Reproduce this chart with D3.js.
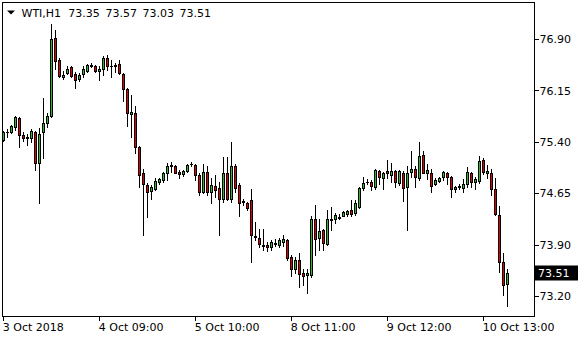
<!DOCTYPE html>
<html>
<head>
<meta charset="utf-8">
<script src="https://cdn.jsdelivr.net/npm/d3@7"></script>
<style>
  body { margin: 0; background: #fff; }
  svg text { font-family: "DejaVu Sans", sans-serif; font-size: 11px; fill: #000; }
</style>
</head>
<body>
<div class="chart"></div>
<script>
// WTI H1 candles
var opens = [75.46,75.57,75.57,75.65,75.78,75.53,75.50,75.49,75.58,75.12,75.57,75.70,75.81,76.94,76.62,76.38,76.44,76.52,76.42,76.35,
  76.42,76.47,76.54,76.53,76.46,76.50,76.65,76.54,76.55,76.56,76.42,76.20,75.83,75.85,75.36,74.97,74.80,74.71,74.74,74.85,
  74.87,74.98,75.08,75.08,74.99,74.96,75.01,75.10,75.09,74.95,74.70,74.99,74.70,74.78,74.75,74.59,74.98,74.60,75.08,74.80,
  74.56,74.54,74.58,74.05,74.02,73.93,73.92,73.90,73.94,73.93,73.97,74.00,73.75,73.58,73.71,73.51,73.48,73.48,74.31,74.02,
  74.14,73.94,74.29,74.31,74.32,74.35,74.38,74.43,74.39,74.48,74.75,74.84,74.85,74.77,75.00,74.90,75.00,74.95,75.00,74.83,
  74.98,74.77,74.99,75.03,74.90,75.24,74.97,74.98,74.81,74.86,74.91,74.98,74.91,74.74,74.77,74.75,74.81,74.98,74.84,74.86,
  75.17,74.97,74.98,74.74,74.36,73.67,73.35];
var highs = [75.59,75.62,75.68,75.81,75.79,75.57,75.54,75.62,75.59,75.63,76.07,75.85,77.15,77.06,76.66,76.46,76.53,76.54,76.45,76.43,
  76.53,76.57,76.58,76.55,76.53,76.68,76.70,76.62,76.58,76.62,76.43,76.22,76.11,75.95,75.37,75.03,74.83,74.80,74.90,74.90,
  74.99,75.12,75.13,75.09,75.02,75.02,75.10,75.13,75.11,74.97,75.10,75.07,74.90,74.95,74.85,75.21,75.21,75.43,75.10,74.83,
  74.59,74.55,74.74,74.26,74.15,74.15,73.96,73.99,74.01,74.02,74.07,74.01,73.78,73.75,73.80,73.57,73.58,74.34,74.51,74.31,
  74.16,74.44,74.48,74.39,74.38,74.42,74.44,74.58,74.58,74.77,74.92,74.88,74.87,75.03,75.02,74.99,75.17,75.12,75.02,75.02,
  75.01,75.08,75.30,75.08,75.43,75.29,75.11,75.03,74.90,74.92,75.01,74.99,74.93,74.78,74.82,74.88,75.06,74.99,74.92,75.22,
  75.20,75.09,75.03,74.90,74.49,73.80,73.57];
var lows = [75.44,75.50,75.56,75.60,75.36,75.44,75.38,75.43,75.02,74.54,75.19,75.65,75.79,76.50,76.38,76.34,76.42,76.38,76.22,76.32,
  76.38,76.45,76.52,76.45,76.33,76.41,76.48,76.38,76.45,76.42,76.02,75.66,75.50,75.27,74.77,74.07,74.33,74.60,74.72,74.81,
  74.85,74.87,74.99,74.97,74.90,74.93,74.99,75.07,74.87,74.65,74.68,74.65,74.53,74.63,74.07,74.55,74.58,74.55,74.70,74.34,
  74.51,74.44,73.68,74.00,73.90,73.85,73.83,73.85,73.91,73.90,73.91,73.70,73.47,73.52,73.31,73.34,73.22,73.46,73.78,73.85,
  73.85,73.92,74.14,74.25,74.30,74.34,74.35,74.34,74.36,74.47,74.73,74.81,74.73,74.74,74.82,74.74,74.90,74.85,74.77,74.80,
  74.57,74.14,74.92,74.77,74.87,74.97,74.89,74.70,74.80,74.85,74.87,74.81,74.63,74.70,74.74,74.70,74.77,74.77,74.74,74.83,
  74.96,74.90,74.65,74.36,73.53,73.19,73.03];
var closes = [75.57,75.58,75.66,75.79,75.53,75.49,75.48,75.59,75.12,75.54,75.70,75.81,76.93,76.61,76.39,76.41,76.50,76.39,76.33,76.40,
  76.49,76.55,76.55,76.46,76.49,76.66,76.53,76.53,76.54,76.43,76.20,75.85,75.86,75.35,74.95,74.81,74.69,74.77,74.86,74.88,
  74.97,75.08,75.09,74.98,74.96,75.00,75.09,75.11,74.95,74.70,74.99,74.70,74.80,74.73,74.60,74.97,74.60,75.08,74.75,74.54,
  74.55,74.46,74.07,74.04,73.94,73.91,73.89,73.96,73.95,73.99,74.01,73.73,73.57,73.71,73.50,73.47,73.51,74.30,74.01,74.13,
  73.95,74.31,74.30,74.36,74.33,74.41,74.42,74.38,74.54,74.75,74.83,74.85,74.78,75.02,74.91,74.98,74.97,75.00,74.85,75.00,
  74.75,74.98,75.03,74.91,75.22,74.98,75.02,74.79,74.87,74.90,74.99,74.92,74.74,74.77,74.78,74.82,74.99,74.85,74.88,75.15,
  74.99,75.00,74.74,74.37,73.68,73.34,73.51];

// price grid steps of 0.75, labelled as the terminal shows them
var priceTicks = [76.90, 76.15, 75.40, 74.65, 73.90, 73.15];
var priceTickLabels = ["76.90", "76.15", "75.40", "74.65", "73.90", "73.20"];
var timeTickIdx = [0, 24, 48, 72, 96, 120];
var timeTickLabels = ["3 Oct 2018", "4 Oct 09:00", "5 Oct 10:00", "8 Oct 11:00", "9 Oct 12:00", "10 Oct 13:00"];
var symbol = "WTI,H1";

var svgWidth = 580;
var svgHeight = 340;
var plot = { left: 2, top: 2, right: 534, bottom: 316 };

var svg = d3.select(".chart")
  .append("svg")
  .attr("width", svgWidth)
  .attr("height", svgHeight);

var n = closes.length;
var xScale = d3.scaleLinear().domain([0, n - 1]).range([3.3, 3.3 + 4 * (n - 1)]);
var yScale = d3.scaleLinear().domain([73.0, 77.5]).range([308.25, 0]);

var candles = d3.range(n).map(function(i) {
  return { i: i, o: opens[i], h: highs[i], l: lows[i], c: closes[i] };
});

var bodyH = d => Math.round(yScale(Math.min(d.o, d.c))) - Math.round(yScale(Math.max(d.o, d.c)));

var g = svg.append("g").attr("shape-rendering", "crispEdges");

// wicks
g.selectAll(".wick")
  .data(candles)
  .enter()
  .append("line")
  .attr("x1", d => Math.round(xScale(d.i)) + 0.5)
  .attr("x2", d => Math.round(xScale(d.i)) + 0.5)
  .attr("y1", d => Math.round(yScale(d.h)))
  .attr("y2", d => Math.round(yScale(d.l)) + 1)
  .attr("stroke", "#000")
  .attr("stroke-width", 1);

// bodies
g.selectAll(".body")
  .data(candles.filter(d => bodyH(d) >= 1))
  .enter()
  .append("rect")
  .attr("x", d => Math.round(xScale(d.i)) - 0.5)
  .attr("y", d => Math.round(yScale(Math.max(d.o, d.c))) + 0.5)
  .attr("width", 2)
  .attr("height", bodyH)
  .attr("fill", d => d.c >= d.o ? "#2eb82e" : "#e00000")
  .attr("stroke", "#000")
  .attr("stroke-width", 1);

// doji
g.selectAll(".doji")
  .data(candles.filter(d => bodyH(d) < 1))
  .enter()
  .append("line")
  .attr("x1", d => Math.round(xScale(d.i)) - 1)
  .attr("x2", d => Math.round(xScale(d.i)) + 2)
  .attr("y1", d => Math.round(yScale(d.c)) + 0.5)
  .attr("y2", d => Math.round(yScale(d.c)) + 0.5)
  .attr("stroke", "#000");

// frame
svg.append("rect")
  .attr("x", plot.left + 0.5)
  .attr("y", plot.top + 0.5)
  .attr("width", plot.right - plot.left)
  .attr("height", plot.bottom - plot.top)
  .attr("fill", "none")
  .attr("stroke", "#000")
  .attr("shape-rendering", "crispEdges");

// price axis (terminal draws its scale ~2px above the candles)
var rightAxis = d3.axisRight(yScale)
  .tickValues(priceTicks)
  .tickFormat((d, k) => priceTickLabels[k])
  .tickSize(4)
  .tickPadding(1);

var yAxis = svg.append("g")
  .attr("transform", `translate(${plot.right + 0.5}, -2)`)
  .attr("shape-rendering", "crispEdges")
  .call(rightAxis);
yAxis.select(".domain").remove();
yAxis.selectAll("text").attr("font-family", "DejaVu Sans").attr("font-size", 11).attr("fill", "#000");
yAxis.selectAll("line").attr("stroke", "#000");

// time axis
var bottomAxis = d3.axisBottom(xScale)
  .tickValues(timeTickIdx)
  .tickFormat((d, k) => timeTickLabels[k])
  .tickSize(4)
  .tickPadding(3);

var xAxis = svg.append("g")
  .attr("transform", `translate(0.5, ${plot.bottom + 0.5})`)
  .attr("shape-rendering", "crispEdges")
  .call(bottomAxis);
xAxis.select(".domain").remove();
xAxis.selectAll(".tick line").attr("transform", "translate(-0.5,0)").attr("stroke", "#000");
xAxis.selectAll("text")
  .attr("text-anchor", "start")
  .attr("x", -1.5)
  .attr("font-family", "DejaVu Sans").attr("font-size", 11).attr("fill", "#000");

// current price label
var last = n - 1;
var lastY = yScale(closes[last]);
svg.append("rect")
  .attr("x", plot.right + 1)
  .attr("y", Math.round(lastY) - 7.5)
  .attr("width", 43)
  .attr("height", 15)
  .attr("fill", "#000");
svg.append("text")
  .attr("x", plot.right + 4)
  .attr("y", Math.round(lastY) + 4)
  .style("fill", "#fff")
  .text(d3.format(".2f")(closes[last]));

// header
svg.append("path")
  .attr("d", "M7,10.5 L15,10.5 L11,14.5 Z")
  .attr("fill", "#000");
svg.append("text")
  .attr("x", 21.5)
  .attr("y", 17)
  .text(symbol);
var ohlc = [opens[last], highs[last], lows[last], closes[last]];
svg.selectAll(".ohlc")
  .data(ohlc)
  .enter()
  .append("text")
  .attr("x", (d, k) => 68.3 + k * 37.1)
  .attr("y", 17)
  .text(d => d3.format(".2f")(d));
</script>
</body>
</html>
